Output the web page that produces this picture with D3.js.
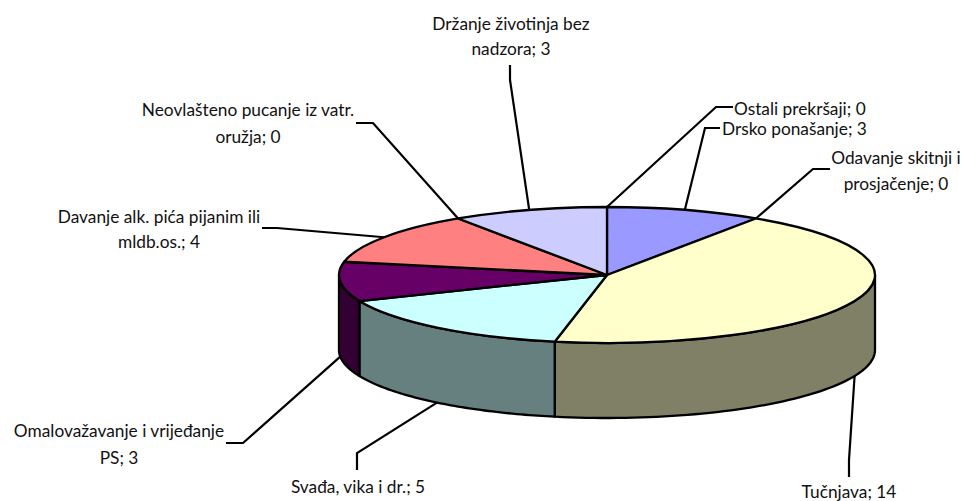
<!DOCTYPE html>
<html>
<head>
<meta charset="utf-8">
<script src="https://cdn.jsdelivr.net/npm/d3@7"></script>
<style>
  html, body { margin: 0; padding: 0; background: #fff; }
  svg { display: block; }
  text { font-family: Lato, "Open Sans", sans-serif; font-size: 17.3px; fill: #111; }
</style>
</head>
<body>
<script>
// DATA, clockwise from 12 o'clock
const categories = [
  "Ostali prekršaji",
  "Drsko ponašanje",
  "Odavanje skitnji i\nprosjačenje",
  "Tučnjava",
  "Svađa, vika i dr.",
  "Omalovažavanje i vrijeđanje\nPS",
  "Davanje alk. pića pijanim ili\nmldb.os.",
  "Neovlašteno pucanje iz vatr.\noružja",
  "Držanje životinja bez\nnadzora"
];
const values = [0, 3, 0, 14, 5, 3, 4, 0, 3];
const colors = ["#FFFFFF", "#9999FF", "#FF99CC", "#FFFFCC", "#CCFFFF", "#660066", "#FF8080", "#0066CC", "#CCCCFF"];

// leader elbows, line ends and label anchors, same order as categories
const leaders = [
  {elbow: [716, 107], end: [733, 107], text: [734, 108], anchor: "start", gap: 0},
  {elbow: [705, 128], end: [720, 128], text: [722, 128], anchor: "start", gap: 0},
  {elbow: [813, 169], end: [830, 169], text: [896, 157], anchor: "middle", gap: 26},
  {elbow: [849, 460], end: [849, 477], text: [849, 491], anchor: "middle", gap: 0},
  {elbow: [357, 453], end: [357, 470], text: [358, 486], anchor: "middle", gap: 0},
  {elbow: [243, 443], end: [226, 443], text: [119, 430], anchor: "middle", gap: 27},
  {elbow: [277, 228], end: [262, 228], text: [159, 216], anchor: "middle", gap: 25},
  {elbow: [373, 123], end: [356, 123], text: [248, 109], anchor: "middle", gap: 27},
  {elbow: [510, 80], end: [510, 65], text: [511, 23], anchor: "middle", gap: 25}
];

const width = 962, height = 501;
const cx = 607, cy = 275, rx = 268, ry = 68, depth = 75;

const svg = d3.select("body").append("svg")
  .attr("width", width)
  .attr("height", height);

const slices = d3.pie().sort(null).value(d => d)(values)
  .map((d, i) => ({...d, i: i, mid: (d.startAngle + d.endAngle) / 2}));

// pie angle (0 at top, clockwise) onto the tilted ellipse
const px = a => cx + rx * Math.sin(a);
const py = a => cy - ry * Math.cos(a);

const half = c => { const r = d3.rgb(c); return d3.rgb(r.r / 2, r.g / 2, r.b / 2); };

// side wall, only the front half of the ellipse shows
const wall = d3.area()
  .x(a => px(a))
  .y0(a => py(a))
  .y1(a => py(a) + depth);

svg.append("g").selectAll("path")
  .data(slices.filter(d => d.value > 0 && d.endAngle > Math.PI / 2 && d.startAngle < 1.5 * Math.PI))
  .join("path")
  .attr("d", d => {
    const a0 = Math.max(d.startAngle, Math.PI / 2);
    const a1 = Math.min(d.endAngle, 1.5 * Math.PI);
    return wall(d3.range(0, 61).map(k => a0 + (a1 - a0) * k / 60)) + "Z";
  })
  .attr("fill", d => half(colors[d.i]))
  .attr("stroke", "#000")
  .attr("stroke-width", 2.3)
  .attr("stroke-linejoin", "round");

// top face
const arc = d3.arc().innerRadius(0).outerRadius(rx);

svg.append("g")
  .attr("transform", `translate(${cx},${cy}) scale(1,${ry / rx})`)
  .selectAll("path")
  .data(slices.filter(d => d.value > 0))
  .join("path")
  .attr("d", arc)
  .attr("fill", d => colors[d.i])
  .attr("stroke", "#000")
  .attr("stroke-width", 2.3)
  .attr("stroke-linejoin", "round")
  .attr("vector-effect", "non-scaling-stroke");

// leaders, front ones start on the bottom rim
const line = d3.line();
svg.append("g").selectAll("path")
  .data(slices)
  .join("path")
  .attr("d", d => {
    const front = d.mid > Math.PI / 2 && d.mid < 1.5 * Math.PI;
    const start = [px(d.mid), py(d.mid) + (front ? depth : 0)];
    return line([start, leaders[d.i].elbow, leaders[d.i].end]);
  })
  .attr("fill", "none")
  .attr("stroke", "#000")
  .attr("stroke-width", 2.2);

// labels
const labels = svg.append("g").selectAll("text")
  .data(slices)
  .join("text")
  .attr("text-anchor", d => leaders[d.i].anchor)
  .attr("dominant-baseline", "central");

labels.each(function(d) {
  const l = leaders[d.i];
  (categories[d.i] + "; " + d.value).split("\n").forEach((t, k) => {
    d3.select(this).append("tspan")
      .attr("x", l.text[0])
      .attr("y", l.text[1] + k * l.gap)
      .text(t);
  });
});
</script>
</body>
</html>
